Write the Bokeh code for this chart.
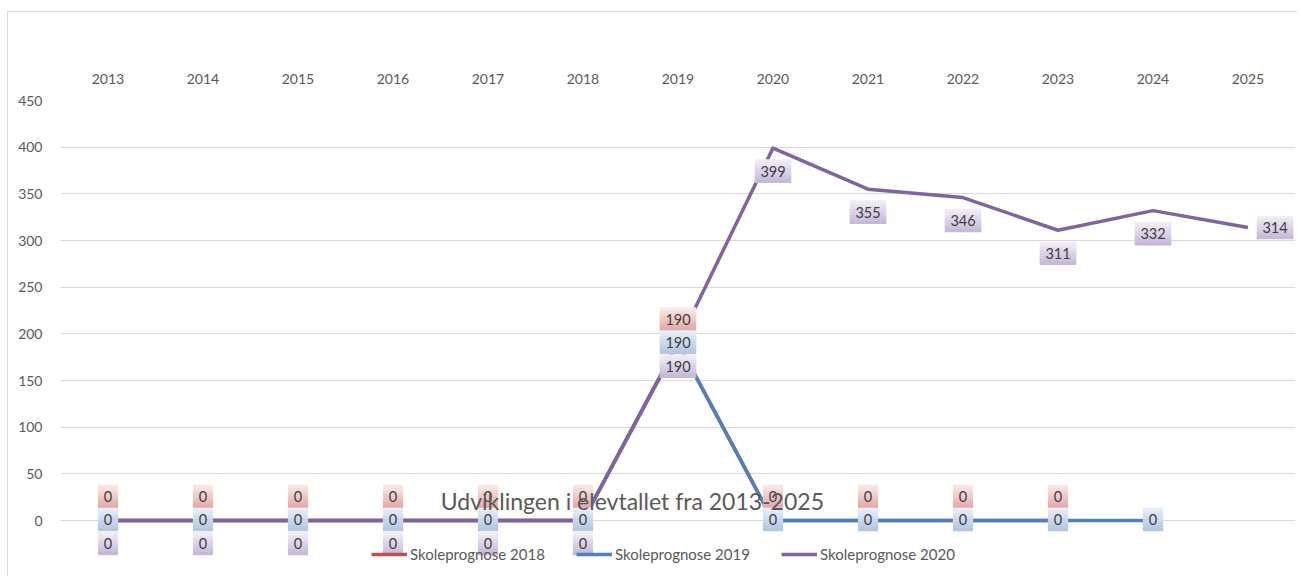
from bokeh.plotting import figure
from bokeh.models import ColumnDataSource, FactorRange, Range1d, FixedTicker, Legend, LegendItem
from bokeh.core.properties import value
from bokeh.embed import file_html
from bokeh.resources import INLINE

# ---------------- data ----------------
years = ["2013", "2014", "2015", "2016", "2017", "2018", "2019",
         "2020", "2021", "2022", "2023", "2024", "2025"]
years_2018 = ["2013", "2014", "2015", "2016", "2017", "2018", "2019",
              "2020", "2021", "2022", "2023"]
prog_2018 = [0, 0, 0, 0, 0, 0, 190, 0, 0, 0, 0]
years_2019 = ["2013", "2014", "2015", "2016", "2017", "2018", "2019",
              "2020", "2021", "2022", "2023", "2024"]
prog_2019 = [0, 0, 0, 0, 0, 0, 190, 0, 0, 0, 0, 0]
years_2020 = years
prog_2020 = [0, 0, 0, 0, 0, 0, 190, 399, 355, 346, 311, 332, 314]
y_ticks = [0, 50, 100, 150, 200, 250, 300, 350, 400, 450]
series_names = ["Skoleprognose 2018", "Skoleprognose 2019", "Skoleprognose 2020"]
title_text = "Udviklingen i elevtallet fra 2013-2025"

# ---------------- layout / style ----------------
W, H = 1290, 565
MB_L, MB_R, MB_T, MB_B = 52, 3, 88, 0
PPU = 420 / 450                                   # pixels per y unit
Y1 = 450
Y0 = Y1 - (H - MB_T - MB_B) / PPU
CAT_PX = (W - MB_L - MB_R) / len(years)           # pixels per category
FONT = "Lato"
GRAY = "#595959"

p = figure(width=W, height=H, x_range=FactorRange(factors=years), y_range=Range1d(Y0, Y1),
           output_backend="svg", toolbar_location=None, x_axis_location="above",
           min_border_left=MB_L, min_border_right=MB_R, min_border_top=MB_T, min_border_bottom=MB_B)
p.styles = {"border-top": "1px solid #d9d9d9", "border-left": "1px solid #d9d9d9",
            "margin-top": "11px", "margin-left": "7px"}
p.outline_line_color = None
p.background_fill_color = "white"
p.border_fill_color = "white"

for ax in (p.xaxis[0], p.yaxis[0]):
    ax.axis_line_color = None
    ax.major_tick_line_color = None
    ax.minor_tick_line_color = None
    ax.major_label_text_font = FONT
    ax.major_label_text_font_size = "14px"
    ax.major_label_text_color = GRAY
p.xaxis.major_label_standoff = 11
p.yaxis.major_label_standoff = 12
p.yaxis.ticker = FixedTicker(ticks=y_ticks)
p.xgrid.grid_line_color = None
p.ygrid.ticker = FixedTicker(ticks=y_ticks)
p.ygrid.grid_line_color = "#d9d9d9"
p.ygrid.grid_line_width = 1

colors = ["#c0504d", "#4f81bd", "#8064a2"]
r18 = p.line(years_2018, prog_2018, line_color=colors[0], line_width=3.5, line_join="round")
r19 = p.line(years_2019, prog_2019, line_color=colors[1], line_width=3.5, line_join="round")
r20 = p.line(years_2020, prog_2020, line_color=colors[2], line_width=3.5, line_join="round")

# ---------------- data labels (gradient boxes) ----------------
def hex2rgb(h):
    h = h.lstrip("#")
    return tuple(int(h[i:i + 2], 16) for i in (0, 2, 4))

def mix(a, b, t):
    ca, cb = hex2rgb(a), hex2rgb(b)
    return "#%02x%02x%02x" % tuple(round(ca[i] + (cb[i] - ca[i]) * t) for i in range(3))

box = dict(x=[], y=[], w=[], h=[], c=[])
txt = dict(x=[], y=[], t=[])
BOX_H = 23
N = 8

def add_labels(xs, vals, top, bottom, placement):
    for i, (xv, v) in enumerate(zip(xs, vals)):
        dx, dy = placement(i, len(vals))
        s = str(v)
        w = 12 + 8.2 * len(s)
        xo = (xv, dx / CAT_PX)
        for k in range(N):
            off = dy - BOX_H / 2 + (k + 0.5) * BOX_H / N
            box["x"].append(xo)
            box["y"].append(v - off / PPU)
            box["w"].append(w)
            box["h"].append(BOX_H / N + 0.6)
            box["c"].append(mix(top, bottom, k / (N - 1)))
        txt["x"].append(xo)
        txt["y"].append(v - dy / PPU)
        txt["t"].append(s)

add_labels(years_2018, prog_2018, "#fae8e7", "#e3aba9", lambda i, n: (0, -24))
add_labels(years_2019, prog_2019, "#e6eef8", "#b3c7e2", lambda i, n: (0, -1))
add_labels(years_2020, prog_2020, "#f1edf5", "#c6bada",
           lambda i, n: (27, 0) if i == n - 1 else (0, 23))

p.rect(x="x", y="y", width="w", height="h", width_units="screen", height_units="screen",
       fill_color="c", line_color=None, source=ColumnDataSource(box))
p.text(x="x", y="y", text="t", text_align="center", text_baseline="middle",
       text_font=value(FONT), text_font_size="14.5px", text_color="#404040",
       source=ColumnDataSource(txt))

# ---------------- title (overlapping, as in the original) ----------------
p.text(x=[("2019", -0.48)], y=[20 / PPU], text=[title_text],
       text_align="center", text_baseline="middle", text_font=value(FONT),
       text_font_size="23px", text_color=GRAY)

# ---------------- legend ----------------
legend = Legend(items=[LegendItem(label=series_names[0], renderers=[r18]),
                       LegendItem(label=series_names[1], renderers=[r19]),
                       LegendItem(label=series_names[2], renderers=[r20])],
                orientation="horizontal", location=(311, 14),
                glyph_width=36, glyph_height=16, label_height=16, label_width=166,
                label_standoff=3, spacing=0, padding=0, margin=0,
                border_line_color=None, background_fill_alpha=0,
                label_text_font=FONT, label_text_font_size="15px", label_text_color=GRAY)
p.add_layout(legend)

open("out.html", "w").write(file_html(p, INLINE, title=title_text))
